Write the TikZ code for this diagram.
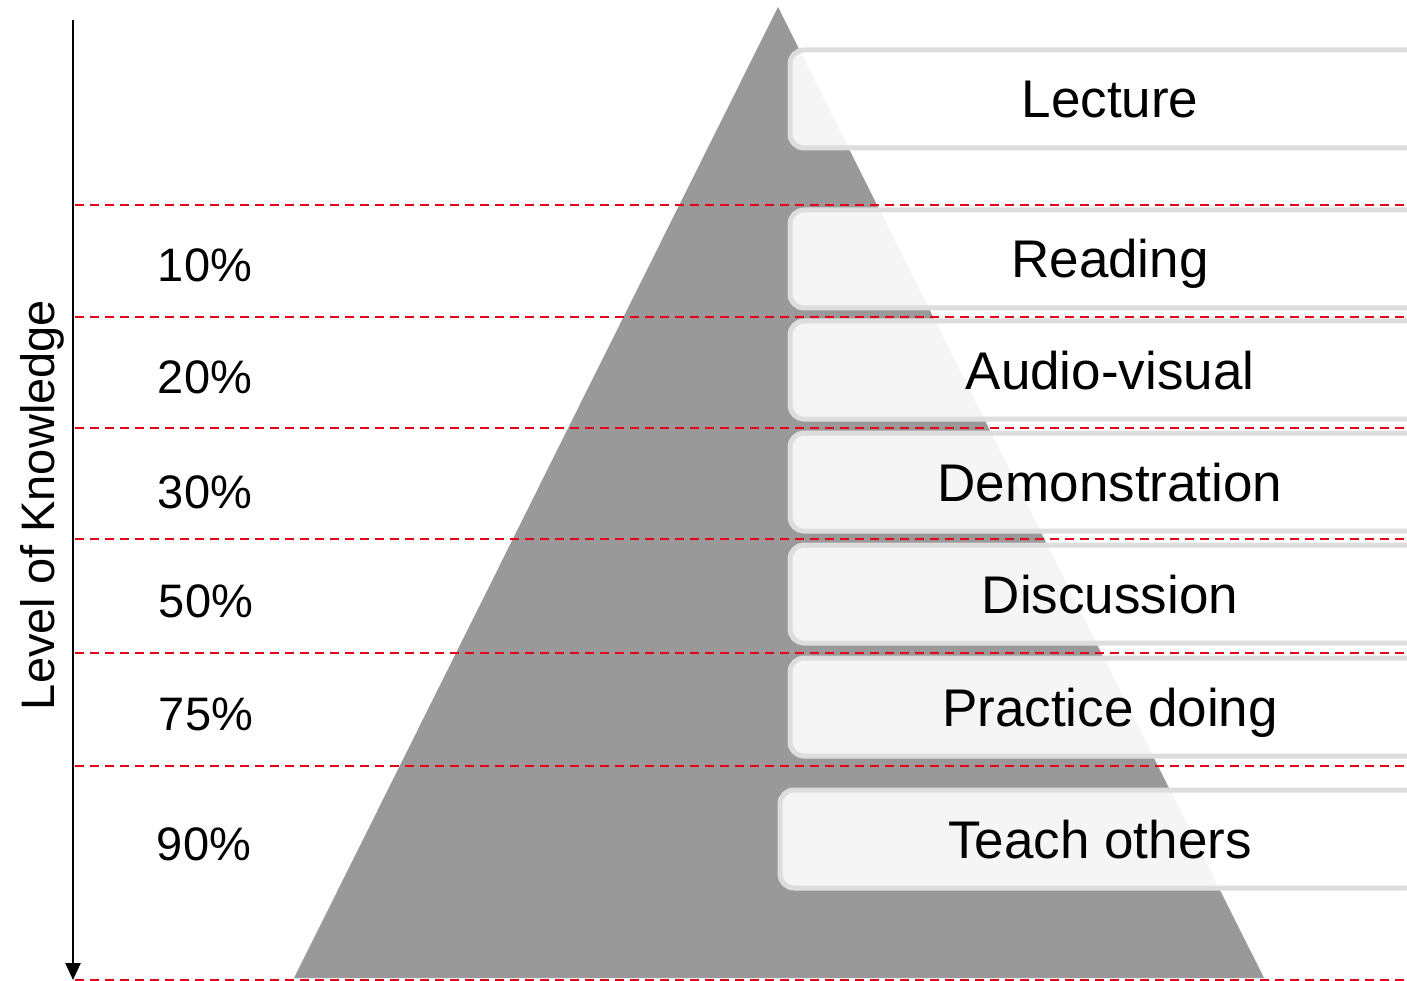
\documentclass[tikz,border=0pt]{standalone}
\usepackage{fontspec}
\setmainfont{Liberation Sans}
\usetikzlibrary{arrows.meta}

\definecolor{pyramidgray}{RGB}{153,153,153}
\definecolor{boxline}{RGB}{221,221,221}
\definecolor{levelred}{RGB}{228,0,27}

\begin{document}
\begin{tikzpicture}[x=1pt, y=-1pt, >={Triangle[width=15pt, length=17pt]},
    level/.style={draw=levelred, line width=2.4pt, dash pattern=on 9pt off 6pt},
    stage/.style={rectangle, rounded corners=14pt, draw=boxline, line width=5pt,
        fill=white, fill opacity=0.9, text opacity=1,
        minimum width=640pt, minimum height=98pt,
        font=\fontsize{53}{60}\selectfont, text height=38pt, text depth=0pt},
    percent/.style={font=\fontsize{47}{56}\selectfont, text height=34pt, text depth=0pt}]
    \useasboundingbox (0,0) rectangle (1407,981);
    \clip (0,0) rectangle (1407,981);

    % pyramid
    \fill[pyramidgray] (778,7) -- (1264,978) -- (294,978) -- cycle;

    % level lines
    \foreach \y in {205,317,428,539,653,766,980}
        \draw[level] (75,\y) -- (1407,\y);

    % stages
    \node[stage] (lecture) at (1110,99) {Lecture};
    \node[stage] (reading) at (1110,259) {Reading};
    \node[stage] (audio)   at (1110,370) {Audio-visual};
    \node[stage] (demo)    at (1110,482) {Demonstration};
    \node[stage] (discuss) at (1110,594) {Discussion};
    \node[stage] (practice) at (1110,707) {Practice doing};
    \node[stage] (teach)   at (1100,839) {Teach others};

    % percentages
    \node[percent] (p10) at (205,265) {10\%};
    \node[percent] (p20) at (205,376) {20\%};
    \node[percent] (p30) at (205,491) {30\%};
    \node[percent] (p50) at (206,600) {50\%};
    \node[percent] (p75) at (206,713) {75\%};
    \node[percent] (p90) at (204,843) {90\%};

    % axis
    \coordinate (axistop) at (73,20);
    \coordinate (axisbottom) at (73,980);
    \draw[->, line width=2.5pt] (axistop) -- (axisbottom);
    \node[percent, rotate=90] (knowledge) at (37,505) {Level of Knowledge};
\end{tikzpicture}
\end{document}
